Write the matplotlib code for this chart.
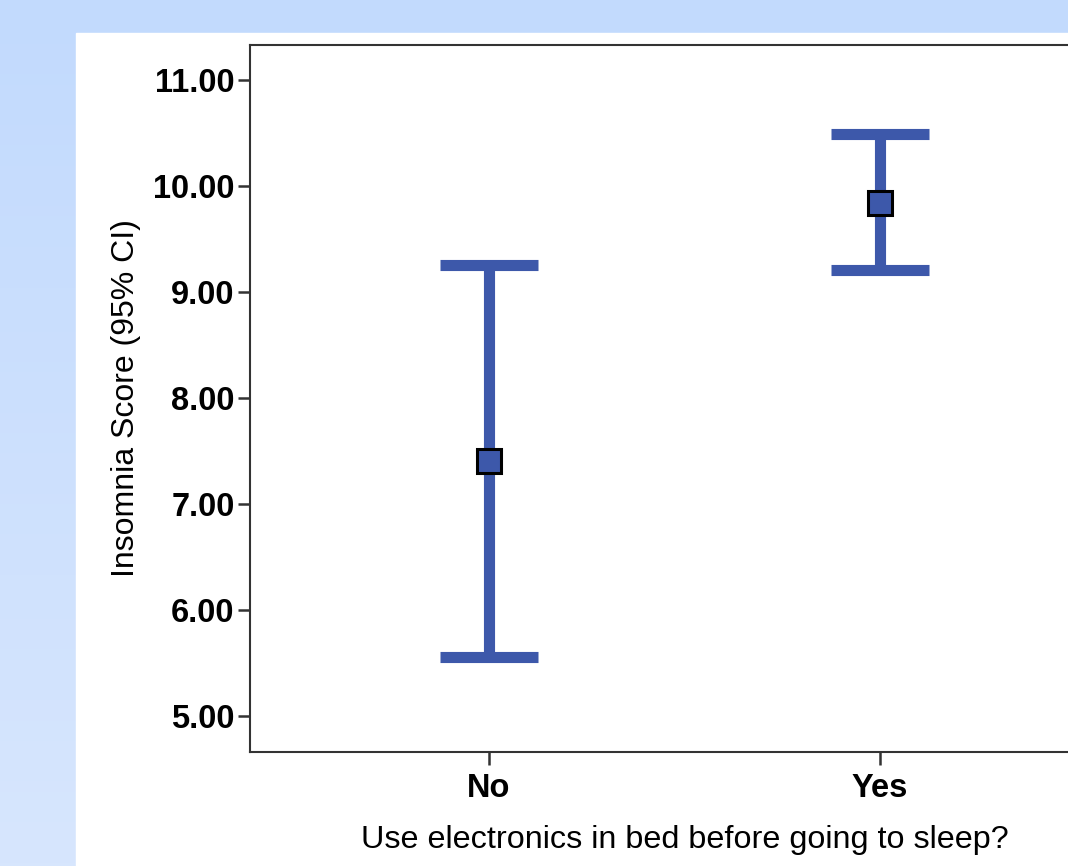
import numpy as np
import matplotlib
matplotlib.use('Agg')
import matplotlib.pyplot as plt
from matplotlib.colors import LinearSegmentedColormap

#------------------------------------------------------------------------------
# DATA
#------------------------------------------------------------------------------

groups = ['No', 'Yes']
means = [7.41, 9.84]
ci_low = [5.56, 9.21]
ci_high = [9.25, 10.49]
yticks = [5, 6, 7, 8, 9, 10, 11]

plt.rcParams['font.family'] = ['Liberation Sans', 'DejaVu Sans']

blue = '#3D58AA'

#------------------------------------------------------------------------------
# FIGURE: slide background + white panel
#------------------------------------------------------------------------------

fig = plt.figure(figsize=(10.68, 8.66), dpi=100)

bg = fig.add_axes([0, 0, 1, 1])
cmap = LinearSegmentedColormap.from_list('bg', ['#C2DAFD', '#D7E6FD'])
bg.imshow(np.linspace(0, 1, 256).reshape(-1, 1), aspect='auto', cmap=cmap,
          extent=[0, 1, 0, 1], origin='upper')
bg.add_patch(plt.Rectangle((76/1068, 0), 1, 1 - 33/866, color='white'))
bg.set_xlim(0, 1)
bg.set_ylim(0, 1)
bg.axis('off')

#------------------------------------------------------------------------------
# PLOT: error bars
#------------------------------------------------------------------------------

ax = fig.add_axes([250/1068, (866-752)/866, (1119-250)/1068, (752-45)/866])
ax.set_facecolor('white')

x = np.arange(len(groups))
yerr = [np.array(means) - np.array(ci_low), np.array(ci_high) - np.array(means)]
ax.errorbar(x, means, yerr=yerr, fmt='none', ecolor=blue, elinewidth=8,
            capsize=35, capthick=8, zorder=2)
ax.plot(x, means, 's', markersize=17, markerfacecolor=blue,
        markeredgecolor='black', markeredgewidth=2.2, zorder=3)

ax.set_xlim(-0.611, 1.611)
ax.set_ylim(4.66, 11.33)
ax.set_xticks(x)
ax.set_xticklabels(groups, fontsize=23.5, fontweight='bold')
ax.set_yticks(yticks)
ax.set_yticklabels(['%.2f' % v for v in yticks], fontsize=23.5, fontweight='bold')

for s in ['left', 'bottom', 'top', 'right']:
    ax.spines[s].set_color('#333333')
    ax.spines[s].set_linewidth(1.5)
ax.tick_params(axis='both', length=9, width=1.8, color='#333333', pad=2)
ax.tick_params(axis='x', pad=6)

ax.set_ylabel('Insomnia Score (95% CI)', fontsize=23, labelpad=9)
ax.set_xlabel('Use electronics in bed before going to sleep?', fontsize=23.3, labelpad=15)

fig.savefig('out.png', dpi=100)
